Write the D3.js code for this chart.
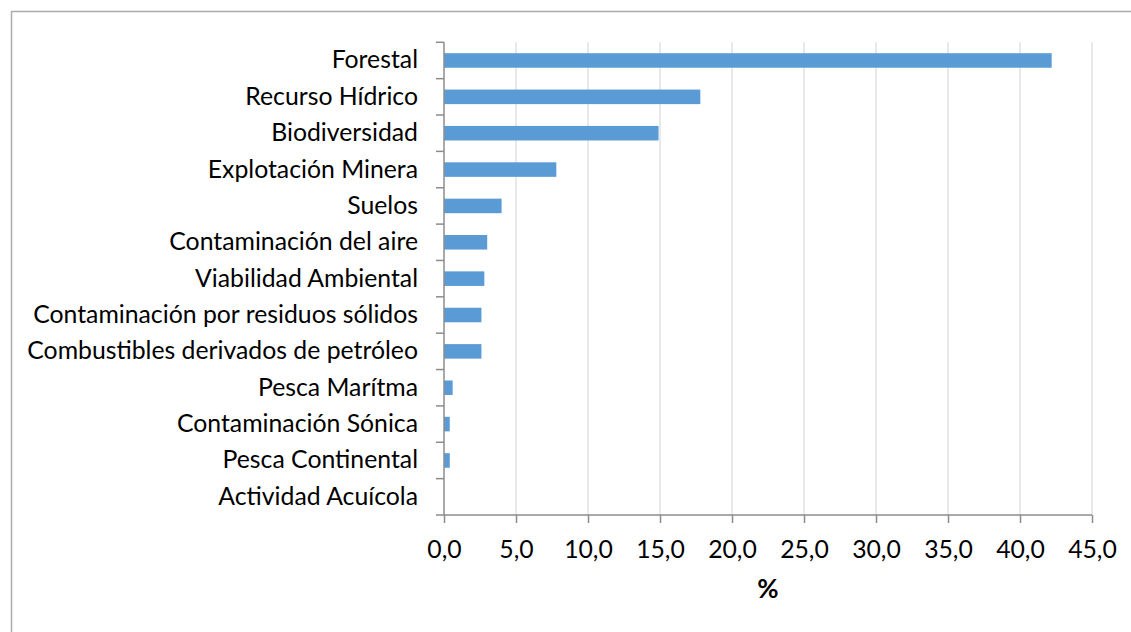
<!DOCTYPE html>
<html>
<head>
<meta charset="utf-8">
<script src="https://cdn.jsdelivr.net/npm/d3@7"></script>
<style>
  html, body { margin: 0; padding: 0; background: #fff; }
  svg { display: block; }
  text { font-family: Lato, "Noto Sans", sans-serif; fill: #000; }
</style>
</head>
<body>
<svg id="chart" width="1131" height="632"></svg>
<script>
// Environmental sectors and their share (%)
const categories = [
  "Forestal",
  "Recurso Hídrico",
  "Biodiversidad",
  "Explotación Minera",
  "Suelos",
  "Contaminación del aire",
  "Viabilidad Ambiental",
  "Contaminación por residuos sólidos",
  "Combustibles derivados de petróleo",
  "Pesca Marítma",
  "Contaminación Sónica",
  "Pesca Continental",
  "Actividad Acuícola"
];
const values = [42.2, 17.8, 14.9, 7.8, 4.0, 3.0, 2.8, 2.6, 2.6, 0.6, 0.4, 0.4, 0.0];
const xTicks = [0, 5, 10, 15, 20, 25, 30, 35, 40, 45];
const xTitle = "%";

const svg = d3.select("#chart");
const W = 1131, H = 632;
const plot = { left: 444, right: 1092, top: 42.3, bottom: 515 };

// Chart frame
svg.append("rect")
  .attr("x", 11.5).attr("y", 11.5)
  .attr("width", W + 10).attr("height", H + 10)
  .attr("fill", "none").attr("stroke", "#ababab").attr("stroke-width", 1.5);

const x = d3.scaleLinear().domain([0, 45]).range([plot.left, plot.right]);
const y = d3.scaleBand().domain(categories).range([plot.top, plot.bottom]).paddingInner(0.6).paddingOuter(0.3);
const yEdges = d3.scaleBand().domain(categories).range([plot.top, plot.bottom]);

// Vertical gridlines
svg.append("g")
  .selectAll("line")
  .data(xTicks.filter(d => d > 0))
  .join("line")
  .attr("x1", d => x(d)).attr("x2", d => x(d))
  .attr("y1", plot.top).attr("y2", plot.bottom)
  .attr("stroke", "#d9d9d9").attr("stroke-width", 1.2);

// Bars
svg.append("g")
  .selectAll("rect")
  .data(categories)
  .join("rect")
  .attr("x", x(0))
  .attr("y", d => y(d))
  .attr("width", (d, i) => x(values[i]) - x(0))
  .attr("height", y.bandwidth())
  .attr("fill", "#5b9bd5");

const axisColor = "#8c8c8c";

// X axis
const xAxis = svg.append("g")
  .attr("transform", `translate(0,${plot.bottom})`)
  .call(d3.axisBottom(x).tickValues(xTicks).tickSize(8).tickPadding(10)
    .tickFormat(d => d3.format(".1f")(d).replace(".", ",")));
xAxis.select(".domain").attr("stroke", axisColor).attr("stroke-width", 1.5).attr("d", `M${plot.left},0H${plot.right}`);
xAxis.selectAll(".tick line").attr("stroke", axisColor).attr("stroke-width", 1.5);
xAxis.selectAll(".tick text")
  .attr("font-size", 23).attr("dy", 0).attr("y", 43)
  .style("font-family", "Lato, 'Noto Sans', sans-serif").attr("fill", "#000");

// Y axis: ticks at category boundaries
const yAxis = svg.append("g").attr("transform", `translate(${plot.left},0)`);
yAxis.append("line")
  .attr("x1", 0).attr("x2", 0).attr("y1", plot.top).attr("y2", plot.bottom)
  .attr("stroke", axisColor).attr("stroke-width", 1.5);
const edges = categories.map(c => yEdges(c)).concat([plot.bottom]);
yAxis.selectAll("line.edge")
  .data(edges)
  .join("line")
  .attr("class", "edge")
  .attr("x1", -8).attr("x2", 0)
  .attr("y1", d => d).attr("y2", d => d)
  .attr("stroke", axisColor).attr("stroke-width", 1.5);

// Category labels
const labels = svg.append("g")
  .selectAll("text")
  .data(categories)
  .join("text")
  .attr("x", 418)
  .attr("y", d => yEdges(d) + yEdges.bandwidth() / 2 + 8)
  .attr("text-anchor", "end")
  .attr("font-size", 23)
  .text(d => d);

// Fit label size so the longest label spans the same width as the category column
const longest = labels.filter(d => d === "Contaminación por residuos sólidos").node();
const scale = 385 / longest.getComputedTextLength();
labels.attr("font-size", 23 * scale);
xAxis.selectAll(".tick text").attr("font-size", 23 * scale);

// Axis title
svg.append("text")
  .attr("x", (plot.left + plot.right) / 2)
  .attr("y", 598)
  .attr("text-anchor", "middle")
  .attr("font-size", 26)
  .attr("font-weight", "bold")
  .text(xTitle);
</script>
</body>
</html>
